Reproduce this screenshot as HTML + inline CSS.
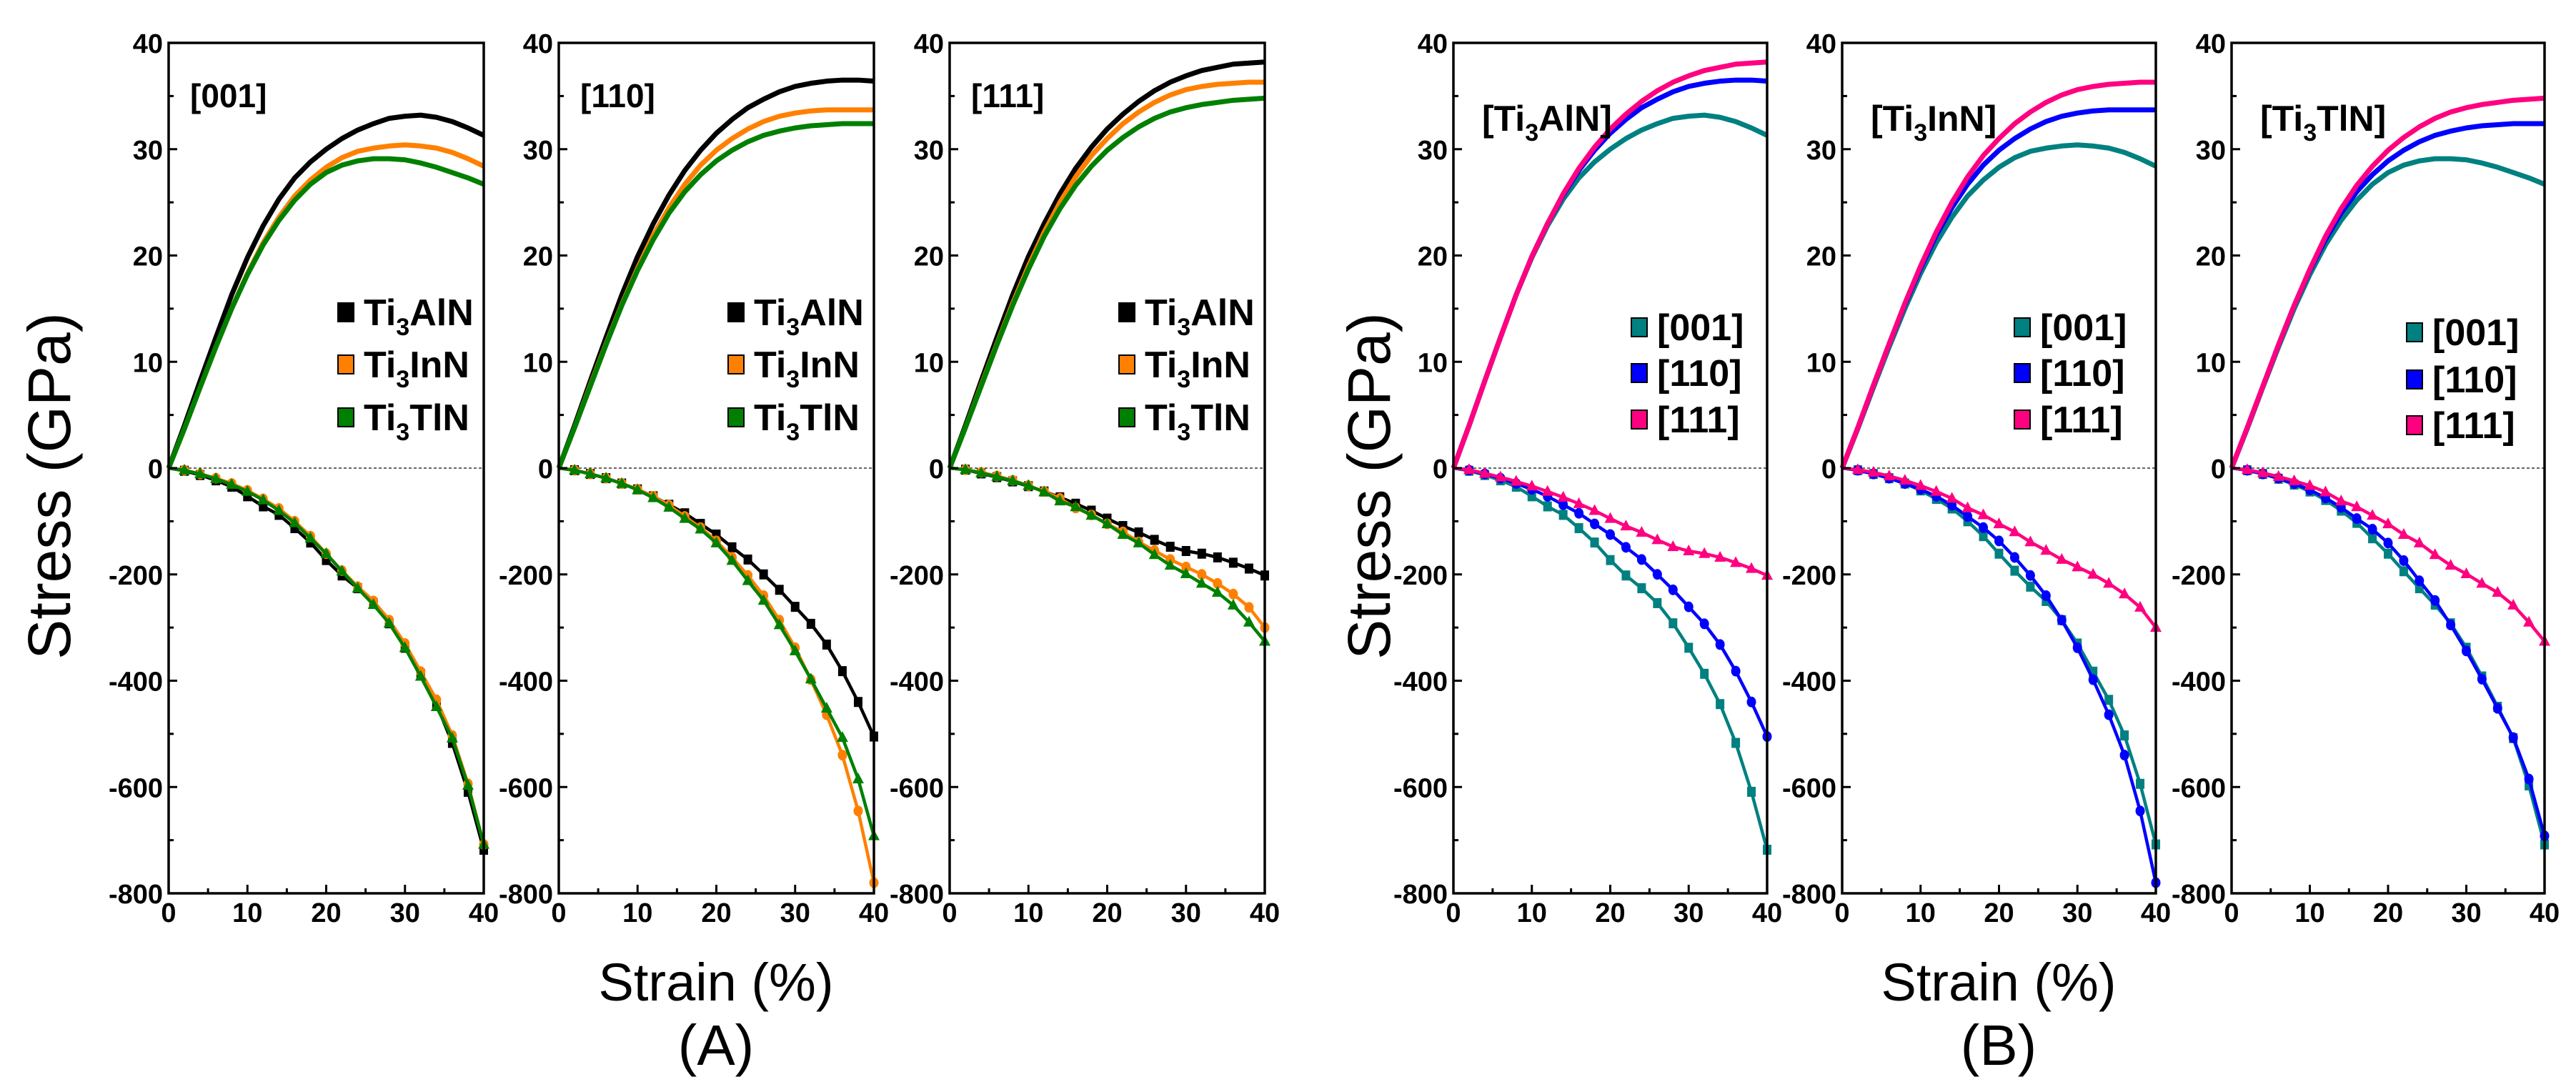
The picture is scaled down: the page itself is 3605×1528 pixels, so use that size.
<!DOCTYPE html>
<html><head><meta charset="utf-8"><style>
html,body{margin:0;padding:0;background:#fff;}
svg{display:block;font-family:"Liberation Sans",sans-serif;}
</style></head><body>
<svg id="fig" width="3605" height="1528" viewBox="0 0 3605 1528" xmlns="http://www.w3.org/2000/svg"></svg>
<script>
const strain = [0,2,4,6,8,10,12,14,16,18,20,22,24,26,28,30,32,34,36,38,40];
// tension (GPa)
const tAlN001 = [0,4,8.2,12.3,16.3,19.8,22.8,25.3,27.3,28.8,30,31,31.8,32.4,32.9,33.1,33.2,33,32.6,32,31.3];
const tAlN110 = [0,4,8.2,12.3,16.3,19.9,23,25.7,28,29.9,31.5,32.8,33.9,34.7,35.4,35.9,36.2,36.4,36.5,36.5,36.4];
const tAlN111 = [0,4,8.2,12.3,16.3,19.9,23,25.8,28.2,30.2,31.9,33.3,34.5,35.5,36.3,36.9,37.4,37.7,38,38.1,38.2];
const tInN001 = [0,3.7,7.6,11.4,15,18.3,21.2,23.6,25.6,27.1,28.3,29.2,29.8,30.1,30.3,30.4,30.3,30.1,29.7,29.1,28.4];
const tInN110 = [0,3.8,7.8,11.7,15.4,18.8,21.9,24.5,26.7,28.5,29.9,31,31.9,32.6,33.1,33.4,33.6,33.7,33.7,33.7,33.7];
const tInN111 = [0,3.8,7.8,11.7,15.5,19,22.2,25,27.4,29.4,31,32.4,33.5,34.4,35.1,35.6,35.9,36.1,36.2,36.3,36.3];
const tTlN001 = [0,3.7,7.6,11.4,15,18.2,21,23.3,25.2,26.7,27.8,28.5,28.9,29.1,29.1,29,28.7,28.3,27.8,27.3,26.7];
const tTlN110 = [0,3.8,7.7,11.6,15.3,18.6,21.5,24,26,27.6,28.9,29.9,30.7,31.3,31.7,32,32.2,32.3,32.4,32.4,32.4];
const tTlN111 = [0,3.8,7.7,11.6,15.3,18.7,21.8,24.4,26.6,28.4,29.9,31.1,32.1,32.9,33.5,33.9,34.2,34.4,34.6,34.7,34.8];
// compression (GPa)
const cAlN001 = [0,-5,-13,-23,-35,-53,-72,-88,-113,-140,-173,-202,-226,-254,-292,-338,-387,-444,-517,-609,-718];
const cAlN110 = [0,-4,-11,-19,-29,-40,-53,-69,-85,-105,-125,-149,-172,-200,-229,-261,-293,-332,-382,-440,-505];
const cAlN111 = [0,-3,-10,-17,-25,-34,-44,-55,-67,-80,-95,-109,-121,-135,-148,-156,-161,-168,-178,-189,-202];
const cInN001 = [0,-4,-11,-19,-29,-42,-58,-76,-100,-128,-161,-193,-223,-250,-286,-330,-383,-436,-503,-594,-708];
const cInN110 = [0,-4,-11,-19,-29,-40,-53,-70,-91,-112,-137,-168,-202,-240,-286,-338,-398,-464,-540,-645,-780];
const cInN111 = [0,-3,-8,-15,-23,-33,-44,-57,-75,-88,-105,-120,-139,-155,-172,-186,-200,-217,-237,-262,-300];
const cTlN001 = [0,-4,-11,-20,-31,-44,-60,-80,-103,-132,-161,-194,-226,-257,-292,-338,-392,-449,-508,-597,-708];
const cTlN110 = [0,-4,-11,-19,-29,-41,-56,-74,-95,-115,-141,-174,-212,-249,-295,-344,-397,-452,-507,-585,-692];
const cTlN111 = [0,-3,-9,-16,-24,-33,-45,-62,-73,-89,-105,-125,-141,-163,-183,-199,-217,-234,-258,-290,-326];
const xTicks = [0,10,20,30,40];
const yTopTicks = [0,10,20,30,40];
const yBotTicks = [-800,-600,-400,-200];

const NS = "http://www.w3.org/2000/svg";
const svg = document.getElementById('fig');
function mk(tag, attrs, parent){
  const e = document.createElementNS(NS, tag);
  for (const k in attrs) e.setAttribute(k, attrs[k]);
  (parent||svg).appendChild(e); return e;
}
const TOP=60, ZERO=655, BOT=1250;
function yS(v){ return v>=0 ? ZERO - v/40*(ZERO-TOP) : ZERO - v/800*(BOT-ZERO); }

function marker(g, type, x, y, color){
  let m;
  if (type==='sq') m = mk('rect',{x:x-6,y:y-7,width:12,height:14,fill:color},g);
  else if (type==='ci') m = mk('ellipse',{cx:x,cy:y,rx:6.5,ry:7.5,fill:color},g);
  else m = mk('polygon',{points:`${x},${y-9} ${x-8},${y+6} ${x+8},${y+6}`,fill:color},g);
  
  
}

function panel(L, R, label, labelSub, series, legend, legY){
  const g = mk('g',{});
  
  
  const xS = v => L + v/40*(R-L);
  const zl = mk('line',{x1:L,y1:ZERO,x2:R,y2:ZERO,stroke:'#333','stroke-width':1.5,'stroke-dasharray':'4,3'},g);
   
  series.forEach(s=>{
    const tp = s.t.map((v,i)=>xS(strain[i])+','+yS(v)).join(' ');
    const tl = mk('polyline',{points:tp,fill:'none',stroke:s.c,'stroke-width':7,'stroke-linejoin':'round'},g);
     
    const cp = s.p.map((v,i)=>xS(strain[i])+','+yS(v)).join(' ');
    const cl = mk('polyline',{points:cp,fill:'none',stroke:s.c,'stroke-width':4.5,'stroke-linejoin':'round'},g);
     
    s.p.forEach((v,i)=>{ if(i>0) marker(g,s.m,xS(strain[i]),yS(v),s.c); });
  });
  const fr = mk('rect',{x:L,y:TOP,width:R-L,height:BOT-TOP,fill:'none',stroke:'#000','stroke-width':3.5},g);
   
  for(let v=0; v<=40; v+=5){
    const maj = v%10===0;
    mk('line',{x1:xS(v),y1:BOT,x2:xS(v),y2:BOT-(maj?12:7),stroke:'#000','stroke-width':3},g);
  }
  xTicks.forEach(v=>{
    const t = mk('text',{x:xS(v),y:BOT+40,'text-anchor':'middle','font-size':38,'font-weight':'bold'},g);
    t.textContent = v;
     
  });
  for(let v=0; v<=40; v+=5){
    mk('line',{x1:L,y1:yS(v),x2:L+(v%10===0?12:7),y2:yS(v),stroke:'#000','stroke-width':3},g);
  }
  for(let v=-800; v<0; v+=100){
    mk('line',{x1:L,y1:yS(v),x2:L+(v%200===0?12:7),y2:yS(v),stroke:'#000','stroke-width':3},g);
  }
  yTopTicks.concat(yBotTicks).forEach(v=>{
    const t = mk('text',{x:L-8,y:yS(v)+14,'text-anchor':'end','font-size':38,'font-weight':'bold'},g);
    t.textContent = v;
     
  });
  const pl = mk('text',{x:L+(labelSub?40:30),y:(labelSub?183:150),'font-size':(labelSub?50:46),'font-weight':'bold'},g);
   
  if(labelSub){
    pl.appendChild(document.createTextNode('[Ti'));
    const sb = mk('tspan',{'font-size':34,dy:14},pl); sb.textContent='3';
    const rs = mk('tspan',{dy:-14},pl); rs.textContent=labelSub+']';
  } else pl.textContent = label;
  legend.forEach((e,i)=>{
    const y = legY[i];
    const lg = mk('g',{},g);
     
    mk('rect',{x:L+e.dx,y:y-13,width:22,height:26,fill:e.c,stroke:'#000','stroke-width':2},lg);
    const t = mk('text',{x:L+e.dx+36,y:y+18,'font-size':52,'font-weight':'bold'},lg);
    if(e.sub){
      t.appendChild(document.createTextNode('Ti'));
      const s1 = mk('tspan',{'font-size':34,dy:14},t); s1.textContent='3';
      const s2 = mk('tspan',{dy:-14},t); s2.textContent=e.sub;
    } else t.textContent = e.txt;
  });
}

const K='#000', O='#ff8000', G='#008000', TE='#008080', B='#0000ff', P='#ff0080';
const legA = [{c:K,sub:'AlN',dx:237},{c:O,sub:'InN',dx:237},{c:G,sub:'TlN',dx:237}];
const legAY = [437,510,584];
panel(236,677,'[001]',null,[
  {t:tAlN001,p:cAlN001,c:K,m:'sq'},{t:tInN001,p:cInN001,c:O,m:'ci'},{t:tTlN001,p:cTlN001,c:G,m:'tr'}],legA,legAY);
panel(782,1223,'[110]',null,[
  {t:tAlN110,p:cAlN110,c:K,m:'sq'},{t:tInN110,p:cInN110,c:O,m:'ci'},{t:tTlN110,p:cTlN110,c:G,m:'tr'}],legA,legAY);
panel(1329,1770,'[111]',null,[
  {t:tAlN111,p:cAlN111,c:K,m:'sq'},{t:tInN111,p:cInN111,c:O,m:'ci'},{t:tTlN111,p:cTlN111,c:G,m:'tr'}],legA,legAY);
function legB(dx){return [{c:TE,txt:'[001]',dx:dx},{c:B,txt:'[110]',dx:dx},{c:P,txt:'[111]',dx:dx}];}
panel(2034,2473,'[Ti3AlN]','AlN',[
  {t:tAlN001,p:cAlN001,c:TE,m:'sq'},{t:tAlN110,p:cAlN110,c:B,m:'ci'},{t:tAlN111,p:cAlN111,c:P,m:'tr'}],legB(249),[458,522,587]);
panel(2578,3017,'[Ti3InN]','InN',[
  {t:tInN001,p:cInN001,c:TE,m:'sq'},{t:tInN110,p:cInN110,c:B,m:'ci'},{t:tInN111,p:cInN111,c:P,m:'tr'}],legB(241),[458,522,587]);
panel(3123,3561,'[Ti3TlN]','TlN',[
  {t:tTlN001,p:cTlN001,c:TE,m:'sq'},{t:tTlN110,p:cTlN110,c:B,m:'ci'},{t:tTlN111,p:cTlN111,c:P,m:'tr'}],legB(245),[465,531,595]);

function label(txt,x,y,size,rot,name){
  const t = mk('text',{x:x,y:y,'text-anchor':'middle','font-size':size});
  if(rot) t.setAttribute('transform',`rotate(-90 ${x} ${y})`);
  t.textContent = txt;
  
  
}
label('Stress (GPa)',98,680,84,true,'y-axis-title-a');
label('Stress (GPa)',1945,680,84,true,'y-axis-title-b');
label('Strain (%)',1002,1400,74,false,'x-axis-title-a');
label('Strain (%)',2797,1400,74,false,'x-axis-title-b');
label('(A)',1002,1490,80,false,'figure-label-a');
label('(B)',2797,1490,80,false,'figure-label-b');
</script>
</body></html>
